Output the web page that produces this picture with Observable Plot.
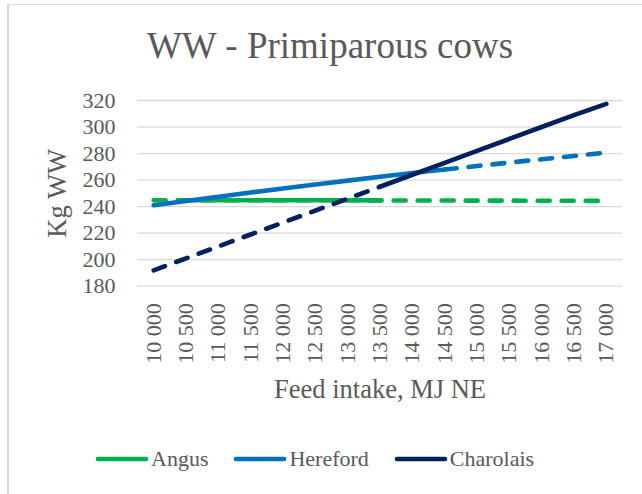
<!DOCTYPE html>
<html>
<head>
<meta charset="utf-8">
<script src="https://cdn.jsdelivr.net/npm/d3@7"></script>
<script src="https://cdn.jsdelivr.net/npm/@observablehq/plot@0.6"></script>
<style>
  html, body { margin: 0; padding: 0; background: #fff; }
  body { width: 642px; height: 494px; position: relative; overflow: hidden;
         font-family: "Liberation Serif", "Times New Roman", serif; color: #595959; }
  #frame { position: absolute; left: 7px; top: 4px; width: 700px; height: 600px;
           border-left: 2px solid #d9d9d9; border-top: 1px solid #d9d9d9; }
  #title { position: absolute; left: 0; top: 27px; width: 660px; text-align: center;
           font-size: 37px; line-height: 37px; white-space: nowrap; }
  #chart { position: absolute; left: 0; top: 70px; }
  #legend { position: absolute; left: 95px; top: 445px; height: 28px; display: flex;
            align-items: center; gap: 25px; font-size: 22px; white-space: nowrap; }
  .item { display: flex; align-items: center; gap: 2px; }
</style>
</head>
<body>
<div id="frame"></div>
<div id="title">WW - Primiparous cows</div>
<div id="chart"></div>
<div id="legend"></div>
<script>
const feedIntake = [10000, 10500, 11000, 11500, 12000, 12500, 13000, 13500, 14000, 14500, 15000, 15500, 16000, 16500, 17000];
const yTicks = [180, 200, 220, 240, 260, 280, 300, 320];
const breeds = ["Angus", "Hereford", "Charolais"];
const breedColors = ["#00B050", "#0070C0", "#002060"];

const angusSolid = [null, 244.8, 244.8, 244.8, 244.8, 244.8, 244.8, 244.7, null, null, null, null, null, null, null];
const angusDashed = [244.8, 244.8, 244.8, 244.8, 244.8, 244.8, 244.8, 244.7, 244.6, 244.6, 244.5, 244.5, 244.4, 244.4, 244.3];
const herefordSolid = [241, 244.3, 247.5, 250.6, 253.7, 256.7, 259.6, 262.5, 265.3, 268, null, null, null, null, null];
const herefordDashed = [null, null, null, null, null, null, null, null, null, 268, 270.6, 273.2, 275.7, 278.2, 280.8];
const charolaisDashed = [192, 201, 210, 219, 228, 237, 246, 255, null, null, null, null, null, null, null];
const charolaisSolid = [null, null, null, null, null, null, null, 255, 264, 273, 282, 291, 300, 309, 317.5];

const yLabel = "Kg WW";
const xLabel = "Feed intake, MJ NE";

const fmt = d3.formatLocale({decimal: ",", thousands: "\u00a0", grouping: [3], currency: ["", ""]}).format(",");
const font = '"Liberation Serif", "Times New Roman", serif';

const series = [
  {values: angusDashed, color: breedColors[0], dashed: true},
  {values: angusSolid, color: breedColors[0], dashed: false},
  {values: herefordSolid, color: breedColors[1], dashed: false},
  {values: herefordDashed, color: breedColors[1], dashed: true},
  {values: charolaisDashed, color: breedColors[2], dashed: true},
  {values: charolaisSolid, color: breedColors[2], dashed: false}
];

const lineMarks = series.map(s => Plot.line(s.values, {
  x: (d, i) => feedIntake[i],
  y: d => d,
  stroke: s.color,
  strokeWidth: 4.6,
  strokeLinecap: "round",
  strokeLinejoin: "round",
  strokeDasharray: s.dashed ? "12,12" : null
}));

const plot = Plot.plot({
  width: 642,
  height: 360,
  marginLeft: 137,
  marginRight: 20,
  marginTop: 30,
  marginBottom: 144.3,
  style: {fontFamily: font, fontSize: "22px", color: "#595959", background: "transparent", overflow: "visible"},
  x: {domain: [9750, 17250], label: null},
  y: {domain: [180, 320], label: null},
  marks: [
    Plot.gridY(yTicks, {stroke: "#d9d9d9", strokeOpacity: 1, strokeWidth: 1.3}),
    Plot.axisY({ticks: yTicks, tickSize: 0, tickPadding: 22, label: null, fontSize: 22}),
    Plot.axisX({ticks: feedIntake, tickFormat: fmt, tickRotate: -90, tickSize: 0, tickPadding: 17, label: null, fontSize: 22}),
    ...lineMarks,
    Plot.text([yLabel], {text: d => d, frameAnchor: "left", textAnchor: "middle", lineAnchor: "middle", dx: -80, rotate: -90, fontSize: 26.5, fill: "#595959"}),
    Plot.text([xLabel], {text: d => d, frameAnchor: "bottom", textAnchor: "middle", lineAnchor: "middle", dy: 103, fontSize: 26.5, fill: "#595959"})
  ]
});
document.getElementById("chart").appendChild(plot);

const legend = d3.select("#legend");
breeds.forEach((b, i) => {
  const item = legend.append("div").attr("class", "item");
  const sw = item.append("svg").attr("width", 54).attr("height", 8);
  sw.append("line").attr("x1", 3).attr("x2", 51).attr("y1", 4).attr("y2", 4)
    .attr("stroke", breedColors[i]).attr("stroke-width", 4.6).attr("stroke-linecap", "round");
  item.append("span").text(b);
});
</script>
</body>
</html>
